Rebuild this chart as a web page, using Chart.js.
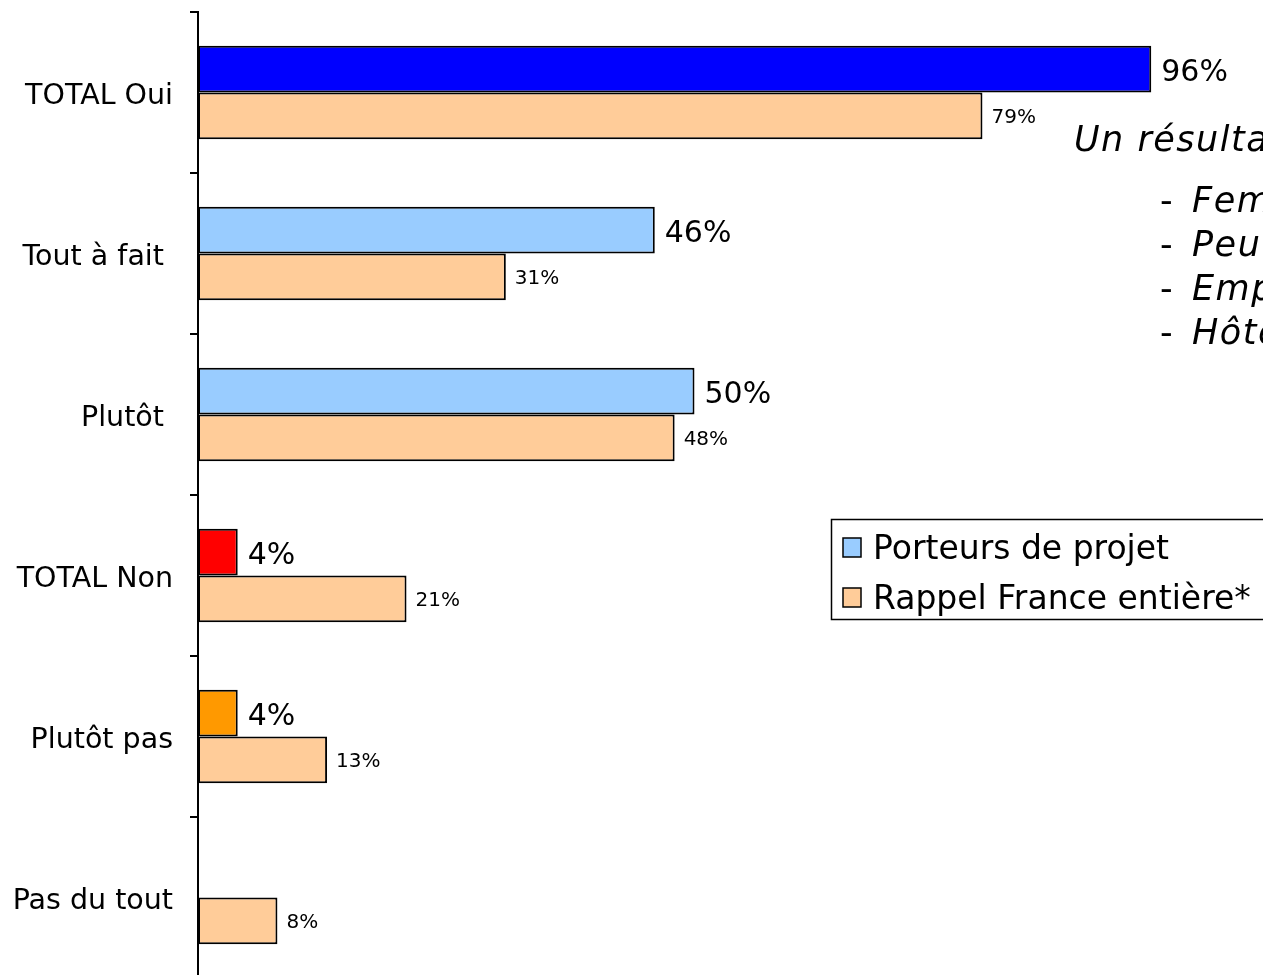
<!DOCTYPE html>
<html>
<head>
<meta charset="utf-8">
<script src="https://cdn.jsdelivr.net/npm/chart.js@4"></script>
<style>
  html, body { margin: 0; padding: 0; background: #fff; overflow: hidden; }
  #wrap { position: relative; width: 1263px; height: 990px; overflow: hidden; }
  .note { position: absolute; font-family: "DejaVu Sans", Verdana, sans-serif; font-style: italic;
          font-size: 35px; letter-spacing: 1.5px; color: #000; white-space: nowrap; line-height: 44px; }
  .dash { font-style: normal; letter-spacing: 0; }
</style>
</head>
<body>
<div id="wrap">
  <canvas id="chart" width="1263" height="990"></canvas>
  <div class="note" style="left:1074px; top:117px;">Un résultat plus élevé chez les :</div>
  <div class="note dash" style="left:1160px; top:178px;">-</div>
  <div class="note" style="left:1192px; top:178px;">Femmes</div>
  <div class="note dash" style="left:1160px; top:222px;">-</div>
  <div class="note" style="left:1192px; top:222px;">Peu diplômés</div>
  <div class="note dash" style="left:1160px; top:266px;">-</div>
  <div class="note" style="left:1192px; top:266px;">Employés</div>
  <div class="note dash" style="left:1160px; top:310px;">-</div>
  <div class="note" style="left:1192px; top:310px;">Hôtellerie-restauration</div>
</div>
<script>
// categories and values (in %)
const categories = ['TOTAL Oui', 'Tout à fait ', 'Plutôt ', 'TOTAL Non', 'Plutôt pas', 'Pas du tout'];
const porteurs = [96, 46, 50, 4, 4, 0];
const franceEntiere = [79, 31, 48, 21, 13, 8];
const seriesNames = ['Porteurs de projet', 'Rappel France entière*'];

// one colour per bar for the first series, the legend keeps the light blue
const porteursColors = ['#0000FF', '#99CCFF', '#99CCFF', '#FF0000', '#FF9900', '#99CCFF'];
const legendColors = ['#99CCFF', '#FFCC99'];

const fontFamily = '"DejaVu Sans", Verdana, sans-serif';

// draws the percent labels next to each bar
const valueLabels = {
    id: 'valueLabels',
    afterDatasetsDraw(chart) {
        const ctx = chart.ctx;
        ctx.save();
        ctx.fillStyle = '#000';
        ctx.textBaseline = 'middle';
        ctx.textAlign = 'left';
        chart.data.datasets.forEach((ds, i) => {
            const meta = chart.getDatasetMeta(i);
            ctx.font = (i === 0 ? '30px ' : '20px ') + fontFamily;
            meta.data.forEach((bar, j) => {
                const v = ds.data[j];
                if (!v) return;
                if (i === 0) ctx.fillText(v + '%', bar.x + 10, bar.y + 4);
                else ctx.fillText(v + '%', bar.x + 9, bar.y + 2);
            });
        });
        ctx.restore();
    }
};

// boxed legend drawn by hand
const boxLegend = {
    id: 'boxLegend',
    afterDraw(chart) {
        const ctx = chart.ctx;
        ctx.save();
        ctx.strokeStyle = '#000';
        ctx.lineWidth = 1.5;
        ctx.strokeRect(831.5, 519.5, 460, 100);
        ctx.font = '33px ' + fontFamily;
        ctx.textBaseline = 'middle';
        chart.data.datasets.forEach((ds, i) => {
            const y = 548 + i * 50;
            ctx.fillStyle = legendColors[i];
            ctx.fillRect(843, y - 10, 18, 19);
            ctx.strokeRect(843, y - 10, 18, 19);
            ctx.fillStyle = '#000';
            ctx.fillText(ds.label, 873, y + 2);
        });
        ctx.restore();
    }
};

new Chart(document.getElementById('chart'), {
    type: 'bar',
    data: {
        labels: categories,
        datasets: [{
            label: seriesNames[0],
            data: porteurs,
            backgroundColor: porteursColors,
            borderColor: '#000',
            borderWidth: 2,
            borderSkipped: false
        }, {
            label: seriesNames[1],
            data: franceEntiere,
            backgroundColor: '#FFCC99',
            borderColor: '#000',
            borderWidth: 2,
            borderSkipped: false
        }]
    },
    options: {
        indexAxis: 'y',
        responsive: false,
        animation: false,
        events: [],
        layout: { padding: { top: 12, right: 72, bottom: 12, left: 0 } },
        datasets: { bar: { categoryPercentage: 0.58, barPercentage: 1 } },
        plugins: { legend: { display: false }, tooltip: { enabled: false } },
        scales: {
            x: { display: false, min: 0, max: 100 },
            y: {
                afterFit(scale) {
                    scale.width = 198;
                    scale.paddingTop = 0;
                    scale.paddingBottom = 0;
                },
                border: { display: true, color: '#000', width: 2 },
                grid: { offset: true, drawOnChartArea: false, drawTicks: true, tickLength: 8, color: '#000', lineWidth: 2 },
                ticks: { color: '#000', padding: 17, labelOffset: 4, font: { family: fontFamily, size: 28.5 } }
            }
        }
    },
    plugins: [valueLabels, boxLegend]
});
</script>
</body>
</html>
